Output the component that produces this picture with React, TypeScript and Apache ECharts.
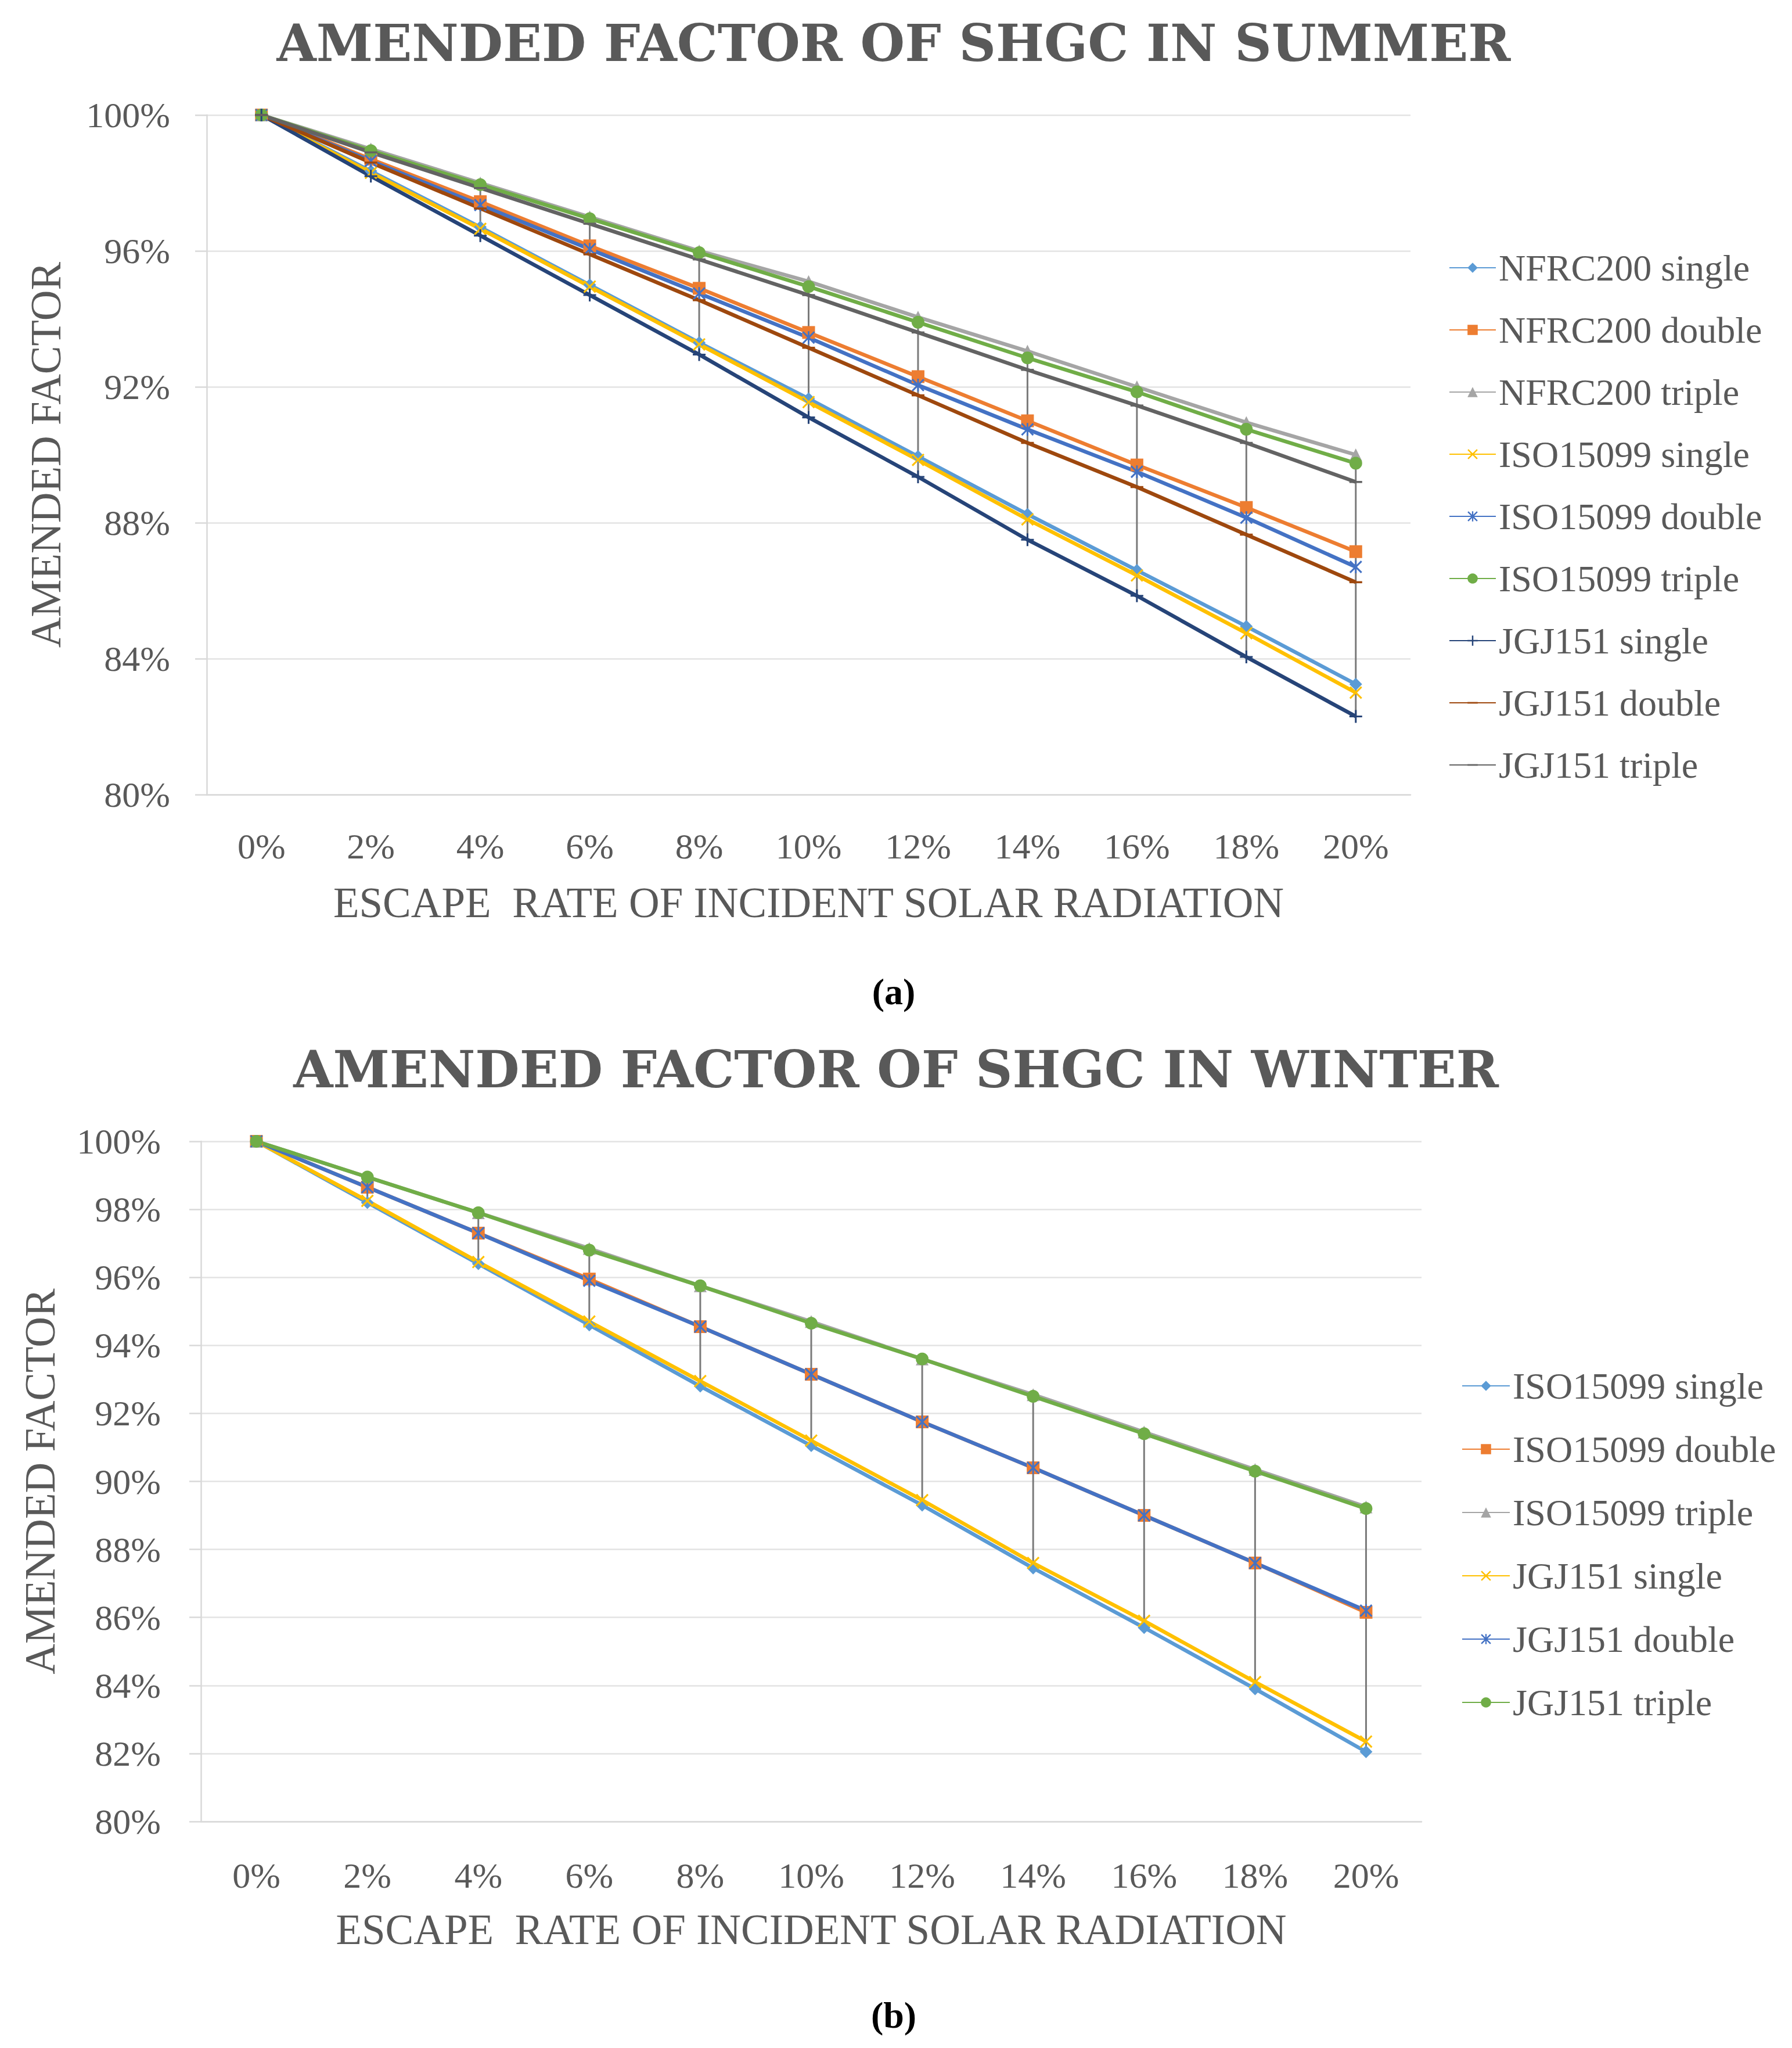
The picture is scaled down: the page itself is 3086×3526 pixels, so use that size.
import { useEffect, useRef } from 'react';
import * as echarts from 'echarts';

const categories = ['0%', '2%', '4%', '6%', '8%', '10%', '12%', '14%', '16%', '18%', '20%'];

// summer (a)
const summerNames = [
  'NFRC200 single', 'NFRC200 double', 'NFRC200 triple',
  'ISO15099 single', 'ISO15099 double', 'ISO15099 triple',
  'JGJ151 single', 'JGJ151 double', 'JGJ151 triple',
];
const sNfrcSingle = [100, 98.35, 96.7, 95.0, 93.3, 91.65, 89.95, 88.25, 86.6, 84.95, 83.25];
const sNfrcDouble = [100, 98.7, 97.45, 96.15, 94.9, 93.6, 92.3, 91.0, 89.7, 88.45, 87.15];
const sNfrcTriple = [100, 99.0, 98.0, 97.0, 96.0, 95.1, 94.05, 93.05, 92.0, 90.95, 90.0];
const sIsoSingle = [100, 98.3, 96.65, 94.95, 93.25, 91.55, 89.85, 88.1, 86.45, 84.75, 83.0];
const sIsoDouble = [100, 98.65, 97.35, 96.05, 94.75, 93.45, 92.05, 90.75, 89.5, 88.15, 86.7];
const sIsoTriple = [100, 98.95, 97.95, 96.95, 95.95, 94.95, 93.9, 92.85, 91.85, 90.75, 89.75];
const sJgjSingle = [100, 98.2, 96.45, 94.7, 92.95, 91.1, 89.35, 87.5, 85.85, 84.05, 82.3];
const sJgjDouble = [100, 98.6, 97.25, 95.9, 94.55, 93.15, 91.75, 90.35, 89.05, 87.65, 86.25];
const sJgjTriple = [100, 98.9, 97.85, 96.8, 95.75, 94.7, 93.6, 92.5, 91.45, 90.35, 89.2];

// winter (b)
const winterNames = [
  'ISO15099 single', 'ISO15099 double', 'ISO15099 triple',
  'JGJ151 single', 'JGJ151 double', 'JGJ151 triple',
];
const wIsoSingle = [100, 98.2, 96.4, 94.6, 92.8, 91.05, 89.3, 87.45, 85.7, 83.9, 82.05];
const wIsoDouble = [100, 98.65, 97.3, 95.95, 94.55, 93.15, 91.75, 90.4, 89.0, 87.6, 86.15];
const wIsoTriple = [100, 98.95, 97.9, 96.85, 95.75, 94.7, 93.6, 92.55, 91.45, 90.35, 89.25];
const wJgjSingle = [100, 98.25, 96.45, 94.7, 92.95, 91.2, 89.45, 87.6, 85.9, 84.1, 82.35];
const wJgjDouble = [100, 98.65, 97.3, 95.9, 94.55, 93.15, 91.75, 90.4, 89.0, 87.6, 86.2];
const wJgjTriple = [100, 98.95, 97.9, 96.8, 95.75, 94.65, 93.6, 92.5, 91.4, 90.3, 89.2];

const summerData = [sNfrcSingle, sNfrcDouble, sNfrcTriple, sIsoSingle, sIsoDouble, sIsoTriple, sJgjSingle, sJgjDouble, sJgjTriple];
const winterData = [wIsoSingle, wIsoDouble, wIsoTriple, wJgjSingle, wJgjDouble, wJgjTriple];

// excel-like marker shapes
const SYM_X = 'path://M1,0L5,4L9,0L10,1L6,5L10,9L9,10L5,6L1,10L0,9L4,5L0,1Z';
const SYM_STAR = 'path://M1,0L5,4L9,0L10,1L6,5L10,9L9,10L5,6L1,10L0,9L4,5L0,1ZM4.35,0H5.65V10H4.35Z';
const SYM_PLUS = 'path://M4.3,0H5.7V4.3H10V5.7H5.7V10H4.3V5.7H0V4.3H4.3Z';
const SYM_DASH = 'path://M0,0M0,4.2H10V5.8H0ZM10,10';

const markerStyles = [
  { color: '#5B9BD5', symbol: 'diamond' },
  { color: '#ED7D31', symbol: 'rect' },
  { color: '#A5A5A5', symbol: 'triangle' },
  { color: '#FFC000', symbol: SYM_X },
  { color: '#4472C4', symbol: SYM_STAR },
  { color: '#70AD47', symbol: 'circle' },
  { color: '#264478', symbol: SYM_PLUS },
  { color: '#9E480E', symbol: SYM_DASH },
  { color: '#636363', symbol: SYM_DASH },
];

const FONT = 'Liberation Serif';
const TEXT = '#595959';

function lineSeries(names: string[], data: number[][]) {
  return names.map((name, i) => ({
    name,
    type: 'line',
    data: data[i],
    symbol: markerStyles[i].symbol,
    symbolSize: 22,
    z: 3,
    lineStyle: { color: markerStyles[i].color, width: 6.5 },
    itemStyle: { color: markerStyles[i].color },
  }));
}

// vertical high-low lines from the lowest to the highest series at each category
function dropLines(data: number[][]) {
  const rows = categories.map((_, i) => {
    const vals = data.map((s) => s[i]);
    return [i, Math.min(...vals), Math.max(...vals)];
  });
  return {
    type: 'custom',
    z: 2,
    silent: true,
    encode: { x: 0, y: [1, 2] },
    data: rows,
    renderItem: (_params: any, api: any) => {
      const p1 = api.coord([api.value(0), api.value(1)]);
      const p2 = api.coord([api.value(0), api.value(2)]);
      return {
        type: 'line',
        shape: { x1: p1[0], y1: p1[1], x2: p2[0], y2: p2[1] },
        style: { stroke: '#7A7A7A', lineWidth: 3 },
      };
    },
  };
}

interface PanelConfig {
  title: string;
  titleX: number;
  titleY: number;
  tag: string;
  tagY: number;
  names: string[];
  data: number[][];
  grid: { left: number; top: number; width: number; height: number };
  interval: number;
  yLabelMargin: number;
  xLabelMargin: number;
  legendLeft: number;
  legendTop: number;
  legendGap: number;
  legendIconW: number;
}

function buildOption(c: PanelConfig) {
  return {
    animation: false,
    backgroundColor: '#FFFFFF',
    title: {
      text: c.title,
      left: c.titleX,
      top: c.titleY,
      textAlign: 'center',
      textVerticalAlign: 'middle',
      padding: 0,
      textStyle: { fontFamily: 'DejaVu Serif', fontSize: 88, fontWeight: 'bold', color: TEXT },
    },
    graphic: [
      {
        type: 'text',
        x: 1539,
        y: c.tagY,
        style: {
          text: c.tag,
          font: 'bold 64px "Liberation Serif"',
          fill: '#000000',
          align: 'center',
          verticalAlign: 'middle',
        },
      },
    ],
    legend: {
      data: c.names,
      orient: 'vertical',
      left: c.legendLeft,
      top: c.legendTop,
      itemWidth: c.legendIconW,
      itemHeight: 22,
      itemGap: c.legendGap,
      textStyle: { fontFamily: FONT, fontSize: 64, color: TEXT, lineHeight: 64 },
    },
    grid: c.grid,
    xAxis: {
      type: 'category',
      data: categories,
      boundaryGap: true,
      name: 'ESCAPE  RATE OF INCIDENT SOLAR RADIATION',
      nameLocation: 'middle',
      nameGap: 150,
      nameTextStyle: { fontFamily: FONT, fontSize: 73, color: TEXT },
      axisLine: { lineStyle: { color: '#D9D9D9', width: 2.5 } },
      axisTick: { show: false },
      axisLabel: { fontFamily: FONT, fontSize: 62, color: TEXT, margin: c.xLabelMargin },
    },
    yAxis: {
      type: 'value',
      min: 80,
      max: 100,
      interval: c.interval,
      name: 'AMENDED FACTOR',
      nameLocation: 'middle',
      nameGap: 240,
      nameTextStyle: { fontFamily: FONT, fontSize: 73, color: TEXT },
      axisLine: { show: true, lineStyle: { color: '#D9D9D9', width: 2.5 } },
      axisTick: { show: true, length: 20, lineStyle: { color: '#D9D9D9', width: 2.5 } },
      splitLine: { lineStyle: { color: '#E3E3E3', width: 2.5 } },
      axisLabel: { fontFamily: FONT, fontSize: 62, color: TEXT, margin: c.yLabelMargin, formatter: '{value}%' },
    },
    series: [dropLines(c.data), ...lineSeries(c.names, c.data)],
  };
}

const SUMMER: PanelConfig = {
  title: 'AMENDED FACTOR OF SHGC IN SUMMER',
  titleX: 1539,
  titleY: 74,
  tag: '(a)',
  tagY: 1707,
  names: summerNames,
  data: summerData,
  grid: { left: 356, top: 198, width: 2073, height: 1170 },
  interval: 4,
  yLabelMargin: 63,
  xLabelMargin: 58,
  legendLeft: 2490,
  legendTop: 424,
  legendGap: 43,
  legendIconW: 80,
};

const WINTER_TOP = 1770;
const WINTER: PanelConfig = {
  title: 'AMENDED FACTOR OF SHGC IN WINTER',
  titleX: 1543,
  titleY: 1841 - WINTER_TOP,
  tag: '(b)',
  tagY: 3469 - WINTER_TOP,
  names: winterNames,
  data: winterData,
  grid: { left: 346, top: 1965 - WINTER_TOP, width: 2102, height: 1171 },
  interval: 2,
  yLabelMargin: 69,
  xLabelMargin: 62,
  legendLeft: 2512,
  legendTop: 2349 - WINTER_TOP,
  legendGap: 45,
  legendIconW: 82,
};

function Panel({ config, top, height }: { config: PanelConfig; top: number; height: number }) {
  const ref = useRef<HTMLDivElement>(null);

  useEffect(() => {
    if (!ref.current) return;
    const chart = echarts.init(ref.current, null, { renderer: 'svg' });
    chart.setOption(buildOption(config));
    return () => {
      chart.dispose();
    };
  }, [config]);

  return (
    <div
      ref={ref}
      style={{ position: 'absolute', left: 0, top, width: 3086, height }}
    />
  );
}

export default function App() {
  return (
    <div style={{ position: 'absolute', left: 0, top: 0, width: 3086, height: 3526, background: '#FFFFFF' }}>
      <Panel config={SUMMER} top={0} height={WINTER_TOP} />
      <Panel config={WINTER} top={WINTER_TOP} height={3526 - WINTER_TOP} />
    </div>
  );
}
